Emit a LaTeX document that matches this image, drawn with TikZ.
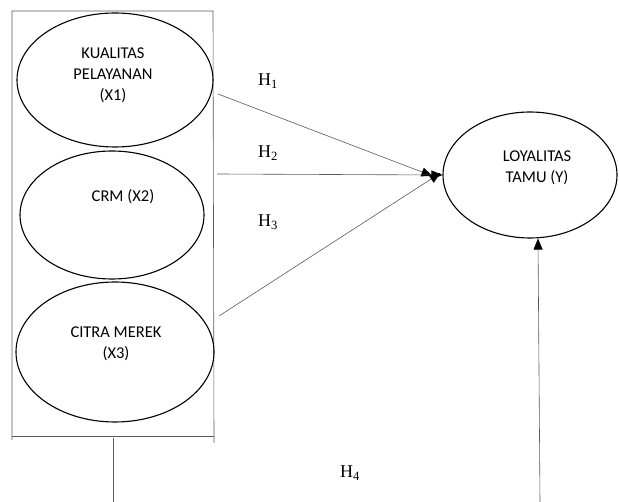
\documentclass[tikz,border=0pt]{standalone}
\usepackage{fontspec}
\setmainfont{Liberation Serif}
\newfontfamily\calfont{Carlito}
\usetikzlibrary{shapes.geometric,arrows.meta}
\begin{document}
\begin{tikzpicture}[x=1pt, y=-1pt,
                    var/.style={ellipse, draw, line width=1.1pt, inner sep=0pt},
                    lbl/.style={font=\calfont\fontsize{16.5}{21}\selectfont, align=center},
                    hyp/.style={font=\fontsize{18}{20}\selectfont},
                    link/.style={draw=gray!70!black, line width=0.6pt},
                    arr/.style={link, -{Triangle[length=11pt,width=9pt,fill=black,color=black]}},
                ]
                \useasboundingbox (0,0) rectangle (619,502);
                % frame round the three variables
                \draw[link] (12,440) -- (12,11) -- (213,11) -- (214,443);
                \draw[link] (12,436) -- (214,436);
                % variables
                \node[var, minimum width=196pt, minimum height=134pt] (x1) at (115,80) {};
                \node[var, minimum width=184pt, minimum height=128pt] (x2) at (112,215) {};
                \node[var, minimum width=198pt, minimum height=140pt] (x3) at (115,352) {};
                \node[var, minimum width=174pt, minimum height=126pt] (y) at (530,175) {};
                \node[lbl] (x1txt) at (113,75) {KUALITAS\\PELAYANAN\\(X1)};
                \node[lbl] (x2txt) at (123,197) {CRM (X2)};
                \node[lbl] (x3txt) at (116,344) {CITRA MEREK\\(X3)};
                \node[lbl] (ytxt) at (537,168) {LOYALITAS\\TAMU (Y)};
                % hypotheses
                \node[hyp] (h1) at (268,81) {H\textsubscript{1}};
                \node[hyp] (h2) at (268,153) {H\textsubscript{2}};
                \node[hyp] (h3) at (268,222) {H\textsubscript{3}};
                \node[hyp] (h4) at (350,473) {H\textsubscript{4}};
                \coordinate (s1) at (218,94);
                \coordinate (s2) at (217,174);
                \coordinate (s3) at (219,316);
                \coordinate (s4) at (113,438);
                \coordinate (e4) at (113,502);
                \coordinate (f4) at (540,502);
                \draw[arr] (s1) -- ([xshift=-10pt,yshift=-1pt]y.west);
                \draw[arr] (s2) -- (y.west);
                \draw[arr] (s3) -- ([xshift=-2pt,yshift=2pt]y.west);
                \draw[link] (s4) -- (e4);
                \draw[arr] (f4) -- ([xshift=8pt]y.south);
                \end{tikzpicture}
\end{document}
